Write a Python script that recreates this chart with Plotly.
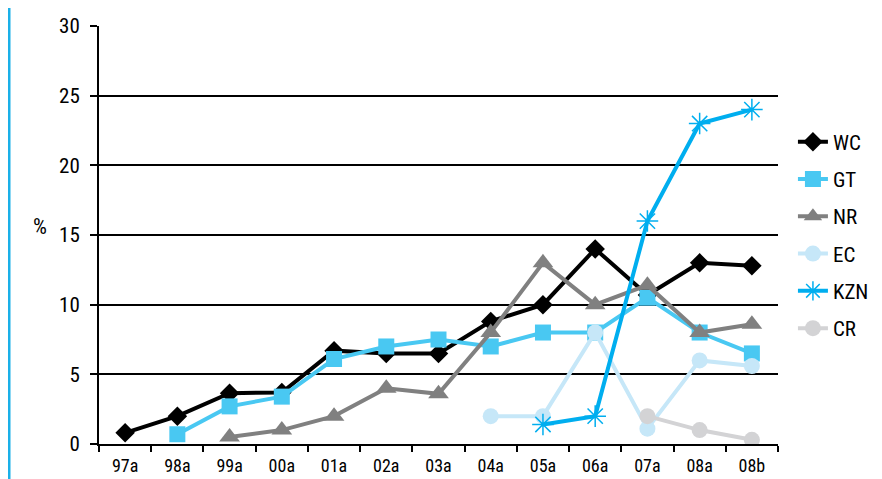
import plotly.graph_objects as go

categories = ["97a", "98a", "99a", "00a", "01a", "02a", "03a", "04a", "05a", "06a", "07a", "08a", "08b"]
wc = [0.8, 2.0, 3.65, 3.7, 6.7, 6.5, 6.5, 8.8, 10.0, 14.0, 10.7, 13.0, 12.8]
gt = [None, 0.7, 2.7, 3.4, 6.1, 7.0, 7.5, 7.0, 8.0, 8.0, 10.5, 8.0, 6.5]
nr = [None, None, 0.5, 1.0, 2.0, 4.0, 3.6, 8.0, 13.0, 10.0, 11.4, 8.0, 8.6]
ec = [None, None, None, None, None, None, None, 2.0, 2.0, 8.0, 1.1, 6.0, 5.6]
kzn = [None, None, None, None, None, None, None, None, 1.4, 2.0, 16.0, 23.0, 24.0]
cr = [None, None, None, None, None, None, None, None, None, None, 2.0, 1.0, 0.3]

FONT = "Liberation Sans Narrow, Arial Narrow, Roboto Condensed, Liberation Sans, sans-serif"

series = [
    ("WC", wc, "#000000", "diamond", 15),
    ("GT", gt, "#49C8F2", "square", 16),
    ("NR", nr, "#808080", "triangle-up", 18),
    ("EC", ec, "#C6E7F8", "circle", 16),
    ("KZN", kzn, "#00AEEF", "asterisk-open", 18),
    ("CR", cr, "#D3D3D5", "circle", 16),
]

W, H = 874, 471
L, R, T, B = 91, 104, 18, 35

fig = go.Figure()
for name, vals, color, sym, size in series:
    marker = dict(symbol=sym, size=size, color=color)
    if sym == "asterisk-open":
        marker["line"] = dict(color=color, width=1.5)
    fig.add_trace(go.Scatter(
        x=categories, y=vals, name=name, mode="lines+markers",
        line=dict(color=color, width=4), marker=marker,
        connectgaps=False, legendgroup=name,
    ))

fig.update_layout(
    width=W, height=H,
    margin=dict(l=L, r=R, t=T, b=B, autoexpand=False),
    paper_bgcolor="white", plot_bgcolor="white",
    font=dict(family=FONT, size=21, color="#000000"),
    showlegend=True,
    legend=dict(x=1.022, y=0.5, yanchor="middle", xanchor="left",
                font=dict(family=FONT, size=21), tracegroupgap=7,
                itemwidth=30, bgcolor="rgba(0,0,0,0)"),
    xaxis=dict(
        type="category", categoryorder="array", categoryarray=categories,
        tickson="boundaries", ticks="outside", ticklen=6, tickwidth=2,
        tickcolor="#000000", showline=True, linecolor="#000000", linewidth=2,
        showgrid=False, tickfont=dict(family=FONT, size=18), ticklabelstandoff=4,
        range=[-0.5, 12.5],
    ),
    yaxis=dict(
        range=[0, 30], dtick=5, ticks="outside", ticklen=7, tickwidth=2,
        tickcolor="#000000", showline=True, linecolor="#000000", linewidth=2,
        showgrid=True, gridcolor="#000000", gridwidth=2, zeroline=False,
        tickfont=dict(family=FONT, size=21), ticklabelstandoff=6,
    ),
)

fig.add_annotation(text="%", xref="paper", yref="paper", xanchor="center", yanchor="middle",
                   x=(40 - 8 - L) / (W - L - R), y=1 - (226 - 8 - T) / (H - T - B),
                   showarrow=False, font=dict(family=FONT, size=22))

fig.add_shape(type="line", xref="paper", yref="paper",
              x0=(1 - L) / (W - L - R), x1=(1 - L) / (W - L - R), y0=-0.2, y1=1.2,
              line=dict(color="#1AB0E8", width=3))

fig.write_html("out.html")
